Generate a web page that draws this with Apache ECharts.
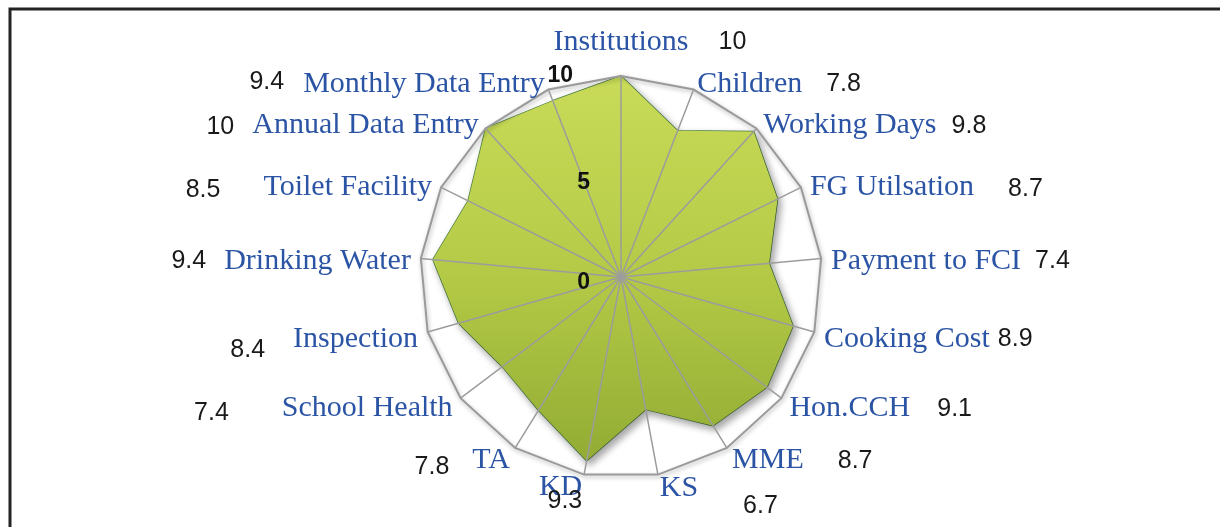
<!DOCTYPE html>
<html>
<head>
<meta charset="utf-8">
<title>Radar</title>
<script src="https://cdn.jsdelivr.net/npm/echarts@6/dist/echarts.min.js"></script>
<style>
html, body { margin: 0; padding: 0; background: #fff; }
#chart { width: 1220px; height: 527px; }
</style>
</head>
<body>
<div id="chart"></div>
<script>
// indicators, clockwise from the top
const categories = ['Institutions', 'Children', 'Working Days', 'FG Utilsation', 'Payment to FCI',
  'Cooking Cost', 'Hon.CCH', 'MME', 'KS', 'KD', 'TA', 'School Health', 'Inspection',
  'Drinking Water', 'Toilet Facility', 'Annual Data Entry', 'Monthly Data Entry']
const scores = [10, 7.8, 9.8, 8.7, 7.4, 8.9, 9.1, 8.7, 6.7, 9.3, 7.8, 7.4, 8.4, 9.4, 8.5, 10, 9.4]
// scale ticks
const scoreMin = 0
const scoreMax = 10
const tickStep = 5

// label layout: space between name and value, and how far the value sits lower
const valueGap = [30, 24, 15, 34, 14, 8, 27, 34, 45, 0, 23, 53, 28, 18, 43, 18, 19]
const valueDrop = [0, 0, 1, 2, 0, 0, 1, 1, 18, 0, 7, 5, 11, 0, 3, 2, -2]
const labelShift = 4 // whole label pushed down a bit

const nameFont = 'Liberation Serif'
const valueFont = 'Liberation Sans'
const nameColor = '#2b54a5'
const valueColor = '#1a1a1a'

// ECharts lays out radar indicators counter-clockwise, so flip the order
const n = categories.length
const order = categories.map((_, k) => (n - k) % n)

function textWidth(str, font) {
  const ctx = document.createElement('canvas').getContext('2d')
  ctx.font = font
  return ctx.measureText(str).width
}

function vPad(d) {
  return [d > 0 ? 2 * d : 0, d < 0 ? -2 * d : 0]
}

const rich = {
  n: { fontFamily: nameFont, fontSize: 30, color: nameColor, padding: [2 * labelShift, 0, 0, 0] },
  t: { fontFamily: nameFont, fontSize: 30, color: nameColor, lineHeight: 48 },
  kd: { fontFamily: nameFont, fontSize: 30, color: nameColor, lineHeight: 26, padding: [2 * labelShift, 0, 0, 0] }
}
scores.forEach((s, i) => {
  const d = valueDrop[i] + labelShift
  const [pt, pb] = vPad(d)
  const base = { fontFamily: valueFont, fontSize: 25, color: valueColor, verticalAlign: 'middle' }
  if (i === 0) {
    base.padding = [0, 0, 0, valueGap[i]]
    base.lineHeight = 48
  } else if (categories[i] === 'KD') {
    base.lineHeight = 2
    base.padding = [2 * labelShift, 0, 0, 0]
  } else if (i <= n / 2) {
    base.padding = [pt, 0, pb, valueGap[i]]
  } else {
    base.padding = [pt, valueGap[i], pb, 0]
  }
  rich['v' + i] = base
})
rich.s = { width: valueGap[0] + textWidth(String(scores[0]), '25px ' + valueFont), lineHeight: 48 }

function nameFormatter(name) {
  const i = categories.indexOf(name)
  const v = '{v' + i + '|' + scores[i] + '}'
  if (i === 0) return '{s| }{t|' + name + '}' + v
  if (name === 'KD') return '{kd|' + name + '}\n' + v
  if (i <= n / 2) return '{n|' + name + '}' + v
  return v + '{n|' + name + '}'
}

const tickStyle = { fontFamily: valueFont, fontSize: 23, fontWeight: 'bold', color: '#111' }

const chart = echarts.init(document.getElementById('chart'))
chart.setOption({
  backgroundColor: '#fff',
  animation: false,
  graphic: [{
    type: 'rect',
    silent: true,
    shape: { x: 10, y: 9, width: 1260, height: 600 },
    style: { fill: 'none', stroke: '#232323', lineWidth: 3 }
  }],
  radar: {
    center: [621, 277],
    radius: 201,
    startAngle: 90,
    splitNumber: 1,
    z: 3,
    nameGap: 10,
    indicator: order.map(i => ({ name: categories[i], min: scoreMin, max: scoreMax })),
    axisName: {
      formatter: nameFormatter,
      rich: rich,
      color: nameColor,
      fontFamily: nameFont,
      fontSize: 30
    },
    axisLine: { lineStyle: { color: '#9c9c9c', width: 1.5 } },
    axisTick: { show: false },
    axisLabel: { show: false },
    splitArea: { show: false },
    splitLine: {
      lineStyle: {
        color: '#9a9a9a',
        width: 2,
        shadowColor: 'rgba(0,0,0,0.3)',
        shadowBlur: 4,
        shadowOffsetX: 1,
        shadowOffsetY: 2
      }
    }
  },
  // polar overlay only to carry the 0 / 5 / 10 scale labels
  polar: { center: [621, 277], radius: 201 },
  angleAxis: { show: false, startAngle: 90, min: 0, max: 360 },
  radiusAxis: {
    min: scoreMin,
    max: scoreMax,
    interval: tickStep,
    z: 10,
    axisLine: { show: false },
    axisTick: { show: false },
    splitLine: { show: false },
    axisLabel: Object.assign({
      margin: 31,
      formatter: v => v === scoreMax ? '{p|' + v + '}' : '{q|' + v + '}',
      rich: {
        p: Object.assign({ padding: [0, 17, 0, 0] }, tickStyle),
        q: Object.assign({ padding: [12, 0, 0, 0] }, tickStyle)
      }
    }, tickStyle)
  },
  series: [{
    type: 'radar',
    z: 2,
    symbol: 'none',
    data: [{ name: 'Score', value: order.map(i => scores[i]) }],
    lineStyle: {
      color: '#4b8042',
      width: 1.5,
      shadowColor: 'rgba(0,0,0,0.35)',
      shadowBlur: 7,
      shadowOffsetX: 3,
      shadowOffsetY: 4
    },
    areaStyle: {
      opacity: 1,
      color: new echarts.graphic.LinearGradient(0, 0, 0, 1, [
        { offset: 0, color: '#c9db58' },
        { offset: 0.5, color: '#b5cb47' },
        { offset: 1, color: '#92ac34' }
      ]),
      shadowColor: 'rgba(0,0,0,0.35)',
      shadowBlur: 7,
      shadowOffsetX: 3,
      shadowOffsetY: 4
    }
  }]
})
</script>
</body>
</html>
